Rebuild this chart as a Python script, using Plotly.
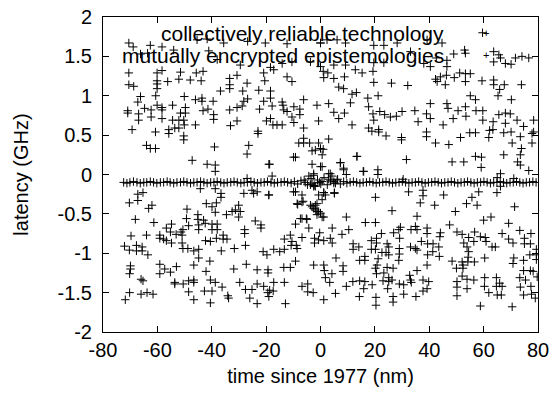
import plotly.graph_objects as go

# ---------------- data ----------------
series_names = ["collectively reliable technology", "mutually encrypted epistemologies"]

# series 1: scattered points, upper band
upper_pts = [
    (-70.5, 1.67), (-68.9, 1.62), (-62.6, 1.64), (-58.3, 1.62), (-45.4, 1.71), (-41.7, 1.72),
    (-35.6, 1.67), (-26.8, 1.69), (-20.3, 1.67), (-12.3, 1.66), (0.0, 1.67),
    (-66.2, 1.53), (-63.6, 1.54), (-54.0, 1.58), (-41.1, 1.57), (-38.0, 1.46), (-29.5, 1.39),
    (-18.4, 1.36), (-17.2, 1.33), (-14.1, 1.41), (-10.5, 1.43), (-3.7, 1.43),
    (-70.5, 1.29), (-60.1, 1.29), (-58.3, 1.32), (-51.5, 1.30), (-45.7, 1.29), (-43.2, 1.31),
    (-30.7, 1.26), (-20.9, 1.29), (-12.3, 1.24), (-10.5, 1.18), (-70.5, 1.14), (-68.7, 1.12),
    (-60.1, 1.19), (-60.1, 1.15), (-60.1, 1.09), (-56.2, 1.18), (-52.1, 1.21), (-47.9, 1.20),
    (-43.9, 1.19), (-33.4, 1.22), (-33.4, 1.14), (-33.4, 1.09), (-27.0, 1.16), (-20.5, 1.19),
    (-18.4, 1.06), (-36.8, 1.06), (-28.6, 1.06), (-22.7, 1.07), (-66.2, 0.99), (-67.2, 0.92),
    (-60.6, 1.00), (-50.1, 0.99), (-46.0, 0.95), (-43.6, 0.97), (-43.6, 0.93), (-39.5, 0.93),
    (-28.2, 0.93), (-26.8, 0.96), (-20.9, 0.93), (-18.4, 0.97), (-14.1, 0.92), (-13.8, 0.88),
    (-6.2, 0.95), (-1.3, 0.88), (-70.9, 0.81), (-70.9, 0.78), (-66.9, 0.77), (-64.7, 0.84),
    (-62.3, 0.82), (-60.1, 0.88), (-58.3, 0.85), (-58.3, 0.82), (-54.4, 0.88), (-49.7, 0.85),
    (-51.5, 0.78), (-49.7, 0.78), (-43.2, 0.81), (-41.4, 0.83), (-39.3, 0.76), (-33.4, 0.82),
    (-30.7, 0.85), (-28.8, 0.87), (-22.4, 0.83), (-17.8, 0.87), (-13.5, 0.82), (-12.3, 0.80),
    (-9.8, 0.86), (-7.6, 0.83), (-7.6, 0.76), (-10.5, 0.73), (-66.9, 0.69), (-62.3, 0.73),
    (-58.3, 0.71), (-54.4, 0.69), (-52.1, 0.69), (-50.3, 0.69), (-39.3, 0.70), (-33.1, 0.62),
    (-30.7, 0.68), (-19.9, 0.68), (-18.4, 0.71), (-17.5, 0.63), (-16.0, 0.63), (-14.1, 0.63),
    (-9.8, 0.66), (-6.2, 0.59), (-0.7, 0.68), (-69.3, 0.57), (-60.7, 0.54), (-55.8, 0.57),
    (-55.8, 0.52), (-53.6, 0.59), (-52.1, 0.59), (-50.1, 0.63), (-46.0, 0.63), (-23.0, 0.55),
    (-23.0, 0.52), (-50.3, 0.49), (-50.3, 0.44), (-6.2, 0.46), (-8.0, 0.40), (-6.2, 0.40),
    (-4.0, 0.40), (-0.7, 0.40), (-64.0, 0.37), (-62.6, 0.33), (-60.7, 0.33), (-39.0, 0.35),
    (-26.4, 0.37), (-27.0, 0.26), (-9.2, 0.22), (-1.9, 0.31), (-47.2, 0.18), (-41.7, 0.13),
    (-38.7, 0.12), (-38.7, 0.04), (-19.0, 0.13), (-17.8, -0.02), (-27.0, -0.05), (-3.1, 0.13),
    (-2.5, -0.01), (-9.9, 0.22), (-3.1, 0.30), (0.6, 0.25), (7.3, 0.15), (8.5, 0.08),
    (13.4, 0.23), (15.9, 0.04), (-18.7, 0.13), (0.6, 0.10),
    (0.0, 1.67), (2.4, 1.71), (6.1, 1.71), (9.2, 1.67), (19.6, 1.64), (23.3, 1.64), (28.2, 1.67),
    (39.2, 1.71), (44.7, 1.67), (59.6, 1.80), (0.0, 1.37), (1.0, 1.31), (2.7, 1.29), (4.9, 1.39),
    (9.2, 1.39), (12.8, 1.33), (15.3, 1.29), (19.6, 1.42), (19.3, 1.31), (23.3, 1.42),
    (33.1, 1.56), (38.0, 1.41), (40.4, 1.37), (42.6, 1.48), (46.5, 1.45), (46.5, 1.37),
    (49.0, 1.53), (53.0, 1.58), (53.3, 1.54), (63.7, 1.56), (65.6, 1.52), (66.2, 1.48),
    (63.7, 1.43), (68.0, 1.41), (70.1, 1.40), (71.7, 1.48), (74.1, 1.50), (76.6, 1.48),
    (1.2, 1.23), (4.9, 1.22), (8.8, 1.24), (19.6, 1.17), (26.1, 1.16), (32.1, 1.13), (42.3, 1.21),
    (42.9, 1.18), (44.1, 1.24), (46.3, 1.26), (45.9, 1.14), (49.2, 1.23), (51.2, 1.29),
    (53.3, 1.28), (53.3, 1.18), (55.1, 1.28), (59.4, 1.19), (63.7, 1.20), (63.7, 1.14),
    (65.9, 1.08), (67.6, 1.14), (73.9, 1.14), (6.7, 1.11), (8.5, 1.09), (11.6, 1.02),
    (13.2, 1.04), (17.4, 0.97), (21.2, 1.00), (3.0, 0.90), (11.0, 0.91), (17.7, 0.86),
    (40.4, 0.90), (46.5, 0.90), (46.9, 0.84), (50.6, 0.81), (53.3, 0.86), (55.1, 1.00),
    (57.0, 0.95), (65.3, 1.00), (70.2, 0.95), (4.9, 0.79), (6.7, 0.71), (8.8, 0.78), (19.3, 0.77),
    (19.6, 0.69), (21.8, 0.80), (23.6, 0.76), (25.7, 0.73), (27.9, 0.74), (30.0, 0.80),
    (34.7, 0.81), (35.9, 0.67), (39.0, 0.77), (40.4, 0.71), (45.1, 0.63), (48.8, 0.71),
    (53.5, 0.74), (57.2, 0.81), (59.7, 0.81), (59.7, 0.69), (63.5, 0.67), (65.6, 0.76),
    (68.0, 0.78), (68.0, 0.65), (69.8, 0.77), (72.3, 0.69), (74.7, 0.61), (78.4, 0.69),
    (78.4, 0.54), (11.6, 0.63), (17.7, 0.59), (18.9, 0.55), (21.4, 0.57), (21.4, 0.54),
    (24.1, 0.49), (29.8, 0.47), (29.8, 0.44), (39.0, 0.54), (39.0, 0.48), (42.3, 0.40),
    (47.2, 0.38), (51.5, 0.47), (54.9, 0.53), (57.0, 0.53), (61.9, 0.47), (62.2, 0.56),
    (63.4, 0.57), (67.4, 0.53), (70.1, 0.54), (70.5, 0.40), (73.5, 0.48), (73.9, 0.33),
    (77.8, 0.52), (77.8, 0.40), (0.0, 0.33), (1.0, 0.32), (3.0, 0.45), (13.4, 0.23),
    (31.6, 0.19), (48.4, 0.16), (52.7, 0.16), (57.0, 0.23), (59.2, 0.22), (59.1, 0.09),
    (67.4, 0.25), (73.5, 0.25), (72.5, 0.16), (73.5, 0.12), (76.6, 0.05), (0.0, 0.10),
    (3.0, 0.01), (7.3, 0.15), (8.5, 0.06), (9.5, 0.00), (15.7, 0.04), (21.1, 0.06), (21.1, 0.00),
    (30.4, -0.06), (65.0, -0.04), (66.2, 0.01), (71.1, -0.05),
]

# series 1: scattered points, lower band
lower_pts = [
    (-44.2, -0.18), (-38.7, -0.18), (-36.6, -0.24), (-36.6, -0.29), (-28.2, -0.24), (-25.2, -0.20),
    (-23.3, -0.22), (-24.6, -0.24), (-19.0, -0.26), (-9.2, -0.22), (-67.2, -0.25), (-65.3, -0.23),
    (-70.3, -0.36), (-67.2, -0.33), (-63.2, -0.43), (-62.0, -0.39), (-49.1, -0.44), (-42.0, -0.37),
    (-39.9, -0.41), (-38.3, -0.36), (-38.7, -0.48), (-34.6, -0.51), (-32.5, -0.47), (-31.3, -0.45),
    (-30.1, -0.39), (-29.5, -0.47), (-30.1, -0.54), (-6.8, -0.35), (-8.6, -0.37), (-68.1, -0.57),
    (-61.3, -0.61), (-56.7, -0.68), (-54.8, -0.63), (-55.2, -0.73), (-53.1, -0.76), (-51.3, -0.73),
    (-50.6, -0.70), (-48.5, -0.65), (-49.3, -0.56), (-45.1, -0.51), (-45.1, -0.57), (-44.8, -0.64),
    (-44.8, -0.70), (-43.0, -0.58), (-42.4, -0.62), (-39.9, -0.63), (-39.9, -0.70), (-38.0, -0.63),
    (-38.0, -0.70), (-35.8, -0.77), (-24.0, -0.59), (-21.9, -0.64), (-21.9, -0.68), (-27.9, -0.70),
    (-27.9, -0.75), (-9.2, -0.63), (-6.8, -0.56), (-5.0, -0.57), (-4.3, -0.68), (-69.7, -0.78),
    (-64.0, -0.77), (-59.1, -0.77), (-59.1, -0.81), (-57.7, -0.82), (-56.7, -0.84), (-54.8, -0.87),
    (-50.9, -0.77), (-50.9, -0.87), (-50.6, -0.94), (-48.8, -0.94), (-46.6, -0.97), (-44.8, -0.95),
    (-42.3, -0.84), (-40.5, -0.85), (-38.3, -0.81), (-35.8, -0.82), (-34.4, -0.82), (-36.5, -0.97),
    (-31.7, -0.94), (-27.6, -0.90), (-21.1, -0.98), (-19.7, -1.02), (-17.2, -0.95), (-15.0, -0.98),
    (-13.3, -0.95), (-13.3, -0.82), (-11.1, -0.77), (-10.5, -0.85), (-10.8, -0.90), (-8.9, -0.90),
    (-8.6, -0.94), (-6.8, -0.80), (-2.2, -0.81), (-2.2, -0.87), (-0.7, -0.83), (-0.3, -0.74),
    (-72.1, -0.91), (-70.3, -0.96), (-67.7, -0.90), (-67.7, -0.97), (-65.6, -0.92), (-65.6, -0.97),
    (-63.5, -1.02), (-44.8, -1.06), (-40.7, -1.10), (-59.1, -1.14), (-59.1, -1.26), (-57.3, -1.20),
    (-55.2, -1.24), (-53.0, -1.17), (-46.6, -1.15), (-42.1, -1.23), (-31.9, -1.20), (-27.3, -1.14),
    (-23.3, -1.21), (-19.3, -1.21), (-19.3, -1.25), (-13.5, -1.18), (-11.1, -1.18), (-9.2, -1.10),
    (-2.5, -1.15), (-69.9, -1.16), (-69.9, -1.20), (-70.2, -1.26), (-66.0, -1.33), (-65.3, -1.35),
    (-53.6, -1.37), (-53.6, -1.39), (-50.5, -1.39), (-48.5, -1.35), (-46.6, -1.34), (-46.6, -1.37),
    (-40.5, -1.34), (-38.7, -1.37), (-29.7, -1.37), (-23.3, -1.39), (-20.9, -1.42), (-17.2, -1.37),
    (-18.7, -1.47), (-17.4, -1.48), (-19.4, -1.50), (-13.3, -1.37), (-6.8, -1.42), (-4.7, -1.39),
    (-4.7, -1.49), (-2.7, -1.50), (-70.2, -1.50), (-66.0, -1.52), (-63.8, -1.50), (-61.6, -1.52),
    (-48.5, -1.49), (-42.7, -1.48), (-39.9, -1.48), (-36.2, -1.43), (-34.1, -1.54), (-33.8, -1.57),
    (-27.6, -1.46), (-25.2, -1.46), (-19.0, -1.55), (-71.8, -1.59), (-46.6, -1.59), (-40.5, -1.63),
    (-26.0, -1.57), (-23.3, -1.64), (-12.9, -1.64), (-19.0, -0.26), (-9.9, -0.22), (-6.4, -0.34),
    (-8.4, -0.38), (5.1, -0.23),
    (1.2, -0.23), (1.8, -0.26), (5.1, -0.24), (20.2, -0.29), (32.4, -0.22), (37.7, -0.20),
    (37.7, -0.27), (45.3, -0.26), (58.2, -0.22), (55.7, -0.29), (64.9, -0.23), (66.2, -0.15),
    (36.7, -0.36), (42.0, -0.39), (53.7, -0.37), (57.6, -0.39), (71.4, -0.41), (26.3, -0.46),
    (49.6, -0.47), (9.5, -0.54), (16.5, -0.61), (20.2, -0.61), (35.5, -0.53), (60.0, -0.58),
    (62.7, -0.54), (69.2, -0.62), (47.5, -0.64), (4.3, -0.68), (7.9, -0.76), (10.4, -0.70),
    (3.6, -0.81), (4.3, -0.87), (1.2, -0.84), (22.4, -0.75), (26.9, -0.74), (28.8, -0.70),
    (29.1, -0.81), (29.4, -0.67), (33.3, -0.70), (34.9, -0.66), (35.5, -0.70), (39.2, -0.68),
    (39.2, -0.75), (44.1, -0.74), (43.9, -0.79), (50.2, -0.73), (52.1, -0.76), (54.5, -0.80),
    (56.7, -0.73), (58.8, -0.79), (60.6, -0.80), (60.9, -0.85), (66.8, -0.75), (69.2, -0.82),
    (70.8, -0.87), (73.3, -0.71), (75.0, -0.81), (77.4, -0.75), (75.0, -0.88), (77.2, -0.88),
    (12.0, -0.88), (12.0, -0.95), (14.1, -0.92), (18.7, -0.84), (20.6, -0.87), (18.7, -0.95),
    (20.2, -0.95), (20.6, -0.81), (22.6, -0.99), (24.5, -0.88), (25.1, -0.92), (25.1, -1.02),
    (24.1, -0.99), (29.0, -0.94), (29.0, -1.01), (28.8, -1.09), (33.1, -0.92), (34.9, -0.94),
    (35.5, -0.96), (37.1, -0.85), (39.4, -0.88), (39.4, -1.02), (41.3, -0.98), (41.4, -0.88),
    (43.5, -0.92), (43.7, -1.04), (52.7, -0.87), (52.1, -1.11), (53.9, -0.92), (54.5, -0.98),
    (54.3, -1.05), (56.4, -0.85), (56.6, -1.11), (63.1, -0.92), (64.3, -0.92), (60.4, -1.06),
    (71.1, -1.06), (70.8, -1.13), (74.7, -1.09), (77.0, -1.02), (79.4, -0.95), (79.4, -1.02),
    (79.4, -1.08), (5.7, -1.06), (1.2, -1.15), (1.4, -1.22), (1.8, -1.31), (4.2, -1.26),
    (3.4, -1.37), (8.3, -1.16), (8.3, -1.23), (14.4, -1.09), (16.3, -1.04), (16.3, -1.09),
    (21.2, -1.07), (20.8, -1.15), (20.2, -1.19), (20.6, -1.26), (23.3, -1.25), (24.5, -1.18),
    (26.7, -1.19), (25.1, -1.31), (26.3, -1.34), (25.1, -1.36), (32.8, -1.28), (33.1, -1.34),
    (35.5, -1.22), (37.7, -1.34), (39.8, -1.36), (39.2, -1.15), (48.4, -1.10), (50.0, -1.19),
    (52.4, -1.19), (52.4, -1.15), (54.2, -1.11), (52.1, -1.29), (53.9, -1.33), (56.4, -1.34),
    (50.2, -1.36), (60.4, -1.31), (64.7, -1.31), (65.9, -1.38), (73.3, -1.31), (74.7, -1.22),
    (75.4, -1.34), (77.2, -1.22), (78.2, -1.23), (79.7, -1.30), (9.5, -1.42), (11.9, -1.36),
    (14.4, -1.35), (16.3, -1.36), (15.9, -1.45), (19.0, -1.40), (23.0, -1.35), (24.7, -1.45),
    (29.0, -1.39), (30.6, -1.40), (33.4, -1.37), (37.7, -1.48), (39.2, -1.45), (50.2, -1.43),
    (53.9, -1.45), (60.3, -1.42), (61.9, -1.50), (64.7, -1.42), (66.8, -1.42), (66.5, -1.53),
    (65.0, -1.53), (73.5, -1.43), (77.4, -1.42), (74.7, -1.53), (77.6, -1.52), (79.0, -1.57),
    (1.2, -1.59), (5.5, -1.51), (14.3, -1.55), (20.4, -1.56), (20.4, -1.66), (26.7, -1.55),
    (26.7, -1.62), (30.6, -1.52), (35.1, -1.55), (50.2, -1.54), (58.8, -1.67), (70.5, -1.68),
]

# series 2: dense band near -0.1 with a curl around zero
band_x = [
    -72.4, -71.2, -70.1, -68.8, -67.5, -66.3, -65.0, -63.9, -62.6, -61.4, -60.2, -58.9, -57.7,
    -56.4, -55.3, -54.0, -52.8, -51.5, -50.3, -49.1, -47.8, -46.6, -45.4, -44.1, -42.9, -41.7,
    -40.4, -39.2, -38.0, -36.7, -35.5, -34.3, -33.0, -31.8, -30.6, -29.3, -28.1, -26.9, -25.6,
    -24.4, -23.2, -21.9, -20.7, -19.5, -18.2, -17.0, -15.8, -14.5, -13.3, -12.1, -10.8, -9.6,
    -8.4, -7.2, -6.0, -4.8, -3.5, -2.3, -1.1, 0.1, 1.3, 2.5, 3.7, 4.9, 6.1, 7.3, 8.5, 9.7,
    10.9, 12.1, 13.3, 14.5, 15.7, 16.9, 18.1, 19.3, 20.5, 21.7, 22.9, 24.1, 25.3, 26.5, 27.7,
    28.9, 30.1, 31.3, 32.5, 33.7, 34.9, 36.1, 37.3, 38.5, 39.7, 40.9, 42.1, 43.3, 44.5, 45.7,
    46.9, 48.1, 49.3, 50.5, 51.7, 52.9, 54.1, 55.3, 56.5, 57.7, 58.9, 60.1, 61.3, 62.5, 63.7,
    64.9, 66.1, 67.3, 68.5, 69.7, 70.9, 72.1, 73.3, 74.5, 75.7, 76.9, 78.1, 79.3,
]
band_y = [
    -0.10, -0.11, -0.10, -0.09, -0.10, -0.11, -0.10, -0.10, -0.09, -0.10, -0.11, -0.10, -0.10,
    -0.09, -0.10, -0.11, -0.10, -0.10, -0.09, -0.10, -0.11, -0.10, -0.10, -0.09, -0.10, -0.11,
    -0.10, -0.10, -0.09, -0.10, -0.11, -0.10, -0.10, -0.09, -0.10, -0.11, -0.10, -0.10, -0.09,
    -0.10, -0.11, -0.10, -0.10, -0.09, -0.10, -0.11, -0.10, -0.10, -0.09, -0.10, -0.11, -0.09,
    -0.12, -0.08, -0.07, -0.13, -0.05, -0.14, -0.07, -0.12, -0.04, -0.13, -0.08, -0.11, -0.07,
    -0.12, -0.09, -0.11, -0.10, -0.09, -0.10, -0.11, -0.10, -0.10, -0.09, -0.10, -0.11, -0.10,
    -0.10, -0.09, -0.10, -0.11, -0.10, -0.10, -0.09, -0.10, -0.11, -0.10, -0.10, -0.09, -0.10,
    -0.11, -0.10, -0.10, -0.09, -0.10, -0.11, -0.10, -0.10, -0.09, -0.10, -0.11, -0.10, -0.10,
    -0.09, -0.10, -0.11, -0.10, -0.10, -0.09, -0.10, -0.11, -0.10, -0.10, -0.09, -0.10, -0.11,
    -0.10, -0.10, -0.09, -0.10, -0.11, -0.10, -0.10, -0.09, -0.10, -0.11,
]
curl_x = [-3.1, -2.5, -4.3, -3.7, -2.5, -1.9, -0.3, 3.0, 3.6, 4.2, 4.9, 5.5, 6.3, 0.6, 1.2,
          -0.7, 0.6, -1.3, -1.9, -2.5, -1.3, -0.7, -1.3, 0.6, 0.0, 1.2, -3.1, -3.7, -1.9, -6.8,
          -5.2, -7.4, -5.6]
curl_y = [0.01, -0.02, -0.13, -0.15, -0.15, -0.10, -0.06, 0.01, -0.02, -0.09, -0.11, -0.06,
          -0.09, -0.23, -0.26, -0.32, -0.37, -0.39, -0.43, -0.47, -0.47, -0.51, -0.54, -0.49,
          -0.54, -0.41, -0.39, -0.45, -0.26, -0.56, -0.56, -0.10, -0.07]

x_tick_vals = [-80, -60, -40, -20, 0, 20, 40, 60, 80]
x_tick_text = ["-80", "-60", "-40", "-20", "0", "20", "40", "60", "80"]
y_tick_vals = [-2, -1.5, -1, -0.5, 0, 0.5, 1, 1.5, 2]
y_tick_text = ["-2", "-1.5", "-1", "-0.5", "0", "0.5", "1", "1.5", "2"]

x_title = "time since 1977 (nm)"
y_title = "latency (GHz)"

# ---------------- figure ----------------
FONT = "Liberation Sans, Arial, Helvetica, sans-serif"
marker = dict(symbol="cross-thin", size=6, color="black", line=dict(color="black", width=1))

s1_x = [p[0] for p in upper_pts] + [p[0] for p in lower_pts]
s1_y = [p[1] for p in upper_pts] + [p[1] for p in lower_pts]
s2_x = band_x + curl_x
s2_y = band_y + curl_y

fig = go.Figure()
fig.add_trace(go.Scatter(x=s1_x, y=s1_y, mode="markers", marker=marker,
                         name=series_names[0], showlegend=False))
fig.add_trace(go.Scatter(x=s2_x, y=s2_y, mode="markers", marker=marker,
                         name=series_names[1], showlegend=False))

# gnuplot-style key: right-justified text with the point sample to its right
key_y = [0.949, 0.879]
for name, ky in zip(series_names, key_y):
    fig.add_annotation(xref="paper", yref="paper", x=0.789, y=ky, text=name,
                       showarrow=False, xanchor="right", yanchor="middle",
                       font=dict(family=FONT, size=21, color="black"))
    fig.add_annotation(xref="paper", yref="paper", x=0.881, y=ky, text="+",
                       showarrow=False, xanchor="center", yanchor="middle",
                       font=dict(family=FONT, size=11, color="black"))

axis_common = dict(showline=True, linecolor="black", linewidth=1, mirror="ticks",
                   ticks="inside", ticklen=6, tickcolor="black", tickwidth=1,
                   showgrid=False, zeroline=False,
                   tickfont=dict(family=FONT, size=20, color="black"))

fig.update_xaxes(range=[-80, 80], tickvals=x_tick_vals, ticktext=x_tick_text,
                 title=dict(text=x_title, font=dict(family=FONT, size=20, color="black"),
                            standoff=8),
                 **axis_common)
fig.update_yaxes(range=[-2, 2], tickvals=y_tick_vals, ticktext=y_tick_text,
                 ticklabelstandoff=6,
                 title=dict(text=y_title, font=dict(family=FONT, size=20, color="black"),
                            standoff=23),
                 **axis_common)

fig.update_layout(width=553, height=394, margin=dict(l=103, r=15, t=17, b=62, autoexpand=False),
                  plot_bgcolor="white", paper_bgcolor="white",
                  font=dict(family=FONT, size=20, color="black"))

fig.write_html("out.html")
